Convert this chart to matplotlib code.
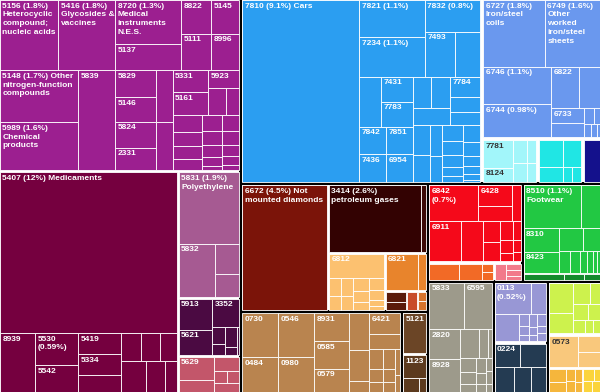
import matplotlib
matplotlib.use("Agg")
import matplotlib.pyplot as plt
from matplotlib.patches import Rectangle
from matplotlib.font_manager import FontProperties

# ---------------- data (share of exports, %) ----------------
purple_ids = ['5156','5416','8720','5137','8822','5111','5145','8996','5148','5989','5839',
              '5829','5146','p1','5824','2331','p2','5331','5161','5923','p3','p4',
              'p5','p6','p7','p8','p9','p10','p11','p12','p13','p14','p15','p16','p17','p18']
purple_vals = [1.73,1.70,1.23,0.73,0.43,0.46,0.40,0.43,1.72,1.59,1.57,
               0.46,0.41,0.37,0.44,0.39,0.35,0.33,0.33,0.23,0.20,0.15,
               0.22,0.18,0.16,0.14,0.14,0.12,0.10,0.07,0.04,0.12,0.10,0.08,0.06,0.04]

maroon_ids = ['5407','8939','5530','5542','5419','5334','m1','m2','m3','m4','m5','m6','m7']
maroon_vals = [12.1,0.88,0.585,0.49,0.38,0.38,0.31,0.24,0.23,0.20,0.33,0.25,0.16]

pink_ids = ['5831','5832','k1','k2']
pink_vals = [1.87,0.83,0.32,0.24]
dpurple_ids = ['5913','5621','3352','d1','d2','d3','d4','d5']
dpurple_vals = [0.45,0.36,0.33,0.10,0.06,0.10,0.04,0.03]
coral_ids = ['5629','r1','r2','r3','r4','r5']
coral_vals = [0.35,0.18,0.16,0.07,0.06,0.10]

blue_ids = ['7810','7821','7234','7832','7493','b1','b2','7431','7783','7842','7436','7851','6954',
            'b3','b4','b5','7784','b6','b7','b8','b9','b10','b11','b12','b13','b14','b15','b16',
            'b17','b18','b19','b20','b21','b22']
blue_vals = [9.1,1.05,1.10,0.75,0.59,0.48,0.47,0.34,0.34,0.32,0.32,0.32,0.32,
             0.24,0.26,0.27,0.26,0.19,0.17,0.22,0.20,0.16,0.14,0.14,0.12,0.10,0.08,0.05,
             0.13,0.10,0.08,0.06,0.04,0.02]

peri_ids = ['6727','6749','6746','6744','6822','s1','6733','s2','s3','s4','s5','s6','s7']
peri_vals = [1.80,1.60,1.10,0.98,0.50,0.37,0.22,0.20,0.07,0.04,0.04,0.03,0.02]
lcyan_ids = ['7781','8124','l1','l2','l3','l4']
lcyan_vals = [0.38,0.20,0.14,0.09,0.12,0.08]
cyan_ids = ['y1','y2','y3','y4','y5','n1']
cyan_vals = [0.30,0.17,0.22,0.06,0.06,0.31]

stone_ids = ['6672','3414','x1','6812','o1','o2','o3','o4','o5','o6','o7','o8','o9','o10','o11',
             '6821','o12','w1','w2','w3','w4','w5']
stone_vals = [4.65,2.72,0.16,0.60,0.10,0.08,0.10,0.08,0.10,0.08,0.06,0.08,0.06,0.04,0.03,
              0.55,0.14,0.11,0.08,0.09,0.04,0.04]

food_ids = ['0730','0484','0546','0980','8931','0585','0579','t1','t2','t3','6421','t4',
            't5','t6','t7','t8','t9','t10','t11','t12','5121','1123','u1','u2']
food_vals = [0.70,0.56,0.69,0.55,0.43,0.42,0.36,0.32,0.27,0.10,0.28,0.21,
             0.12,0.08,0.06,0.10,0.07,0.05,0.06,0.04,0.42,0.24,0.10,0.05]

red_ids = ['6842','6428','e1','e2','6911','e3','e4','e5','e6','e7','e8','e9','e10','e11',
           'f1','f2','f3','f4','f5','f6','f7','f8']
red_vals = [0.80,0.32,0.23,0.14,0.58,0.40,0.16,0.14,0.12,0.08,0.05,0.06,0.04,0.03,
            0.22,0.17,0.04,0.04,0.08,0.04,0.04,0.03]

green_ids = ['8510','g1','8310','8423','g2','g3','g4','g5','g6','g7','g8','g9','h1','h2','h3']
green_vals = [1.10,0.37,0.36,0.34,0.24,0.17,0.12,0.10,0.07,0.06,0.04,0.03,0.10,0.05,0.04]

gray_ids = ['5833','6595','2820','8928','a1','a2','a3','a4','a5','a6','a7','a8','a9','a10','a11','a12']
gray_vals = [0.72,0.57,0.42,0.45,0.24,0.12,0.05,0.10,0.08,0.06,0.07,0.05,0.04,0.03,0.03,0.02]

mid_ids = ['0113','q1','q2','q3','q4','q5','q6','q7','q8','q9','q10','q11','0224','v1','v2','v3','v4']
mid_vals = [0.52,0.22,0.30,0.06,0.04,0.03,0.05,0.03,0.02,0.05,0.03,0.03,0.27,0.28,0.22,0.20,0.18]

lime_ids = ['i1','i2','i3','i4','i5','i6','i7','i8','i9','0573','j1','j2',
            'j3','j4','j5','j6','j7','j8','j9','j10','j11','j12']
lime_vals = [0.34,0.22,0.16,0.10,0.11,0.09,0.07,0.05,0.04,0.42,0.17,0.15,
             0.11,0.08,0.06,0.05,0.04,0.03,0.07,0.04,0.05,0.04]

share_codes = ['5156','5416','8720','5148','5989','5407','5831','5530','7810','7821','7234','7832',
               '6727','6749','6746','6744','6672','3414','6842','8510','0113']
share_texts = ['1.8%','1.8%','1.3%','1.7%','1.6%','12%','1.9%','0.59%','9.1%','1.1%','1.1%','0.8%',
               '1.8%','1.6%','1.1%','0.98%','4.5%','2.6%','0.7%','1.1%','0.52%']
name_codes = ['5156','5416','8720','5148','5989','5407','5831','7810','6727','6749','6672','3414','8510']
name_texts = ['Heterocyclic compound; nucleic acids','Glycosides & vaccines','Medical instruments N.E.S.',
              'Other nitrogen-function compounds','Chemical products','Medicaments','Polyethylene',
              'Cars','Iron/steel coils','Other worked iron/steel sheets','Not mounted diamonds',
              'petroleum gases','Footwear']
dark_text_codes = ['7781','8124','0573']

VALUE = {}
for ids, vals in [(purple_ids, purple_vals), (maroon_ids, maroon_vals), (pink_ids, pink_vals),
                  (dpurple_ids, dpurple_vals), (coral_ids, coral_vals), (blue_ids, blue_vals),
                  (peri_ids, peri_vals), (lcyan_ids, lcyan_vals), (cyan_ids, cyan_vals),
                  (stone_ids, stone_vals), (food_ids, food_vals), (red_ids, red_vals),
                  (green_ids, green_vals), (gray_ids, gray_vals), (mid_ids, mid_vals),
                  (lime_ids, lime_vals)]:
    assert len(ids) == len(vals)
    VALUE.update(dict(zip(ids, vals)))
SHARE = dict(zip(share_codes, share_texts))
NAME = dict(zip(name_codes, name_texts))

# ---------------- layout tree ----------------
def H(*kids, gap=0, col='white'):
    return ('h', kids, gap, col)

def V(*kids, gap=0, col='white'):
    return ('v', kids, gap, col)

def C(color, node):
    return ('c', color, node)

P_tree = V(H('5156', '5416', V('8720', '5137'), V('8822', '5111'), V('5145', '8996')),
           H(V('5148', '5989'), '5839',
             V(H(V('5829', '5146'), 'p1'), H(V('5824', '2331'), 'p2')),
             V(H(V('5331', '5161'), V('5923', H('p3', 'p4'))),
               H(V('p5', 'p6', 'p7', 'p8'), V('p9', 'p10', 'p11', 'p12', 'p13'),
                 V('p14', 'p15', 'p16', 'p17', 'p18')))))
maroon_tree = V('5407', H('8939', V('5530', '5542'), V('5419', '5334', 'm1'),
                          V(H('m2', 'm3', 'm4'), H('m5', 'm6', 'm7'))))
M_tree = H(C('#75003f', maroon_tree),
           V(C('#a65a92', V('5831', H('5832', V('k1', 'k2')))),
             C('#4b0a42', H(V('5913', '5621'), V('3352', H(V('d1', 'd2'), V('d3', 'd4'), 'd5')))),
             C('#c3566a', H(V('5629', 'r1'), V('r2', H('r3', 'r4'), 'r5'))), gap=2),
           gap=2)
L_tree = V(C('#9c1f90', P_tree), M_tree, gap=2)

blue_tree = H('7810',
              V(H(V('7821', '7234'), V('7832', H('7493', 'b1'))),
                H(V(H('b2', V('7431', '7783')), H(V('7842', '7436'), V('7851', '6954'))),
                  V(H(V(H('b3', 'b4'), 'b5'), V('7784', 'b6', 'b7')),
                    H(V('b8', 'b9'), V('b10', 'b11'), V('b12', 'b13', 'b14', 'b15', 'b16'),
                      V('b17', 'b18', 'b19', 'b20', 'b21', 'b22'))))))
peri_tree = V(H('6727', '6749'),
              H(V('6746', '6744'),
                V(H('6822', 's1'), H(V('6733', 's2'), V(H('s3', 's4'), H('s5', 's6', 's7'))))))
metals = V(C('#6a98ee', peri_tree),
           H(C('#a2f6fa', H(V('7781', '8124'), V(H('l1', 'l2'), H('l3', 'l4')))),
             C('#20e6e4', H(V('y1', 'y2'), V('y3', H('y4', 'y5')))),
             C('#14118c', 'n1'), gap=3),
           gap=3)
Rtop = H(C('#2b9ef1', blue_tree), metals, gap=3)

upper = H(C('#7b1409', '6672'),
          V(H(C('#330202', '3414'), C('#3c0a06', 'x1')),
            H(C('#fcc170', V('6812', H(V('o1', 'o2'), V('o3', 'o4'), V('o5', 'o6', 'o7'),
                                       V('o8', 'o9', 'o10', 'o11')))),
              V(C('#e8842c', H('6821', 'o12')),
                H(C('#5a1a0a', V('w1', 'w2')), C('#c84c2a', 'w3'), C('#d8742c', V('w4', 'w5')), gap=1),
                gap=2),
              gap=2),
            gap=2),
          gap=2)
tan_tree = H(V('0730', '0484'), V('0546', '0980'), V('8931', '0585', '0579'), V('t1', 't2', 't3'),
             V('6421', 't4', H(V('t5', 't6', 't7'), V('t8', 't9', 't10'), V('t11', 't12'))))
lower = H(C('#b9844f', tan_tree),
          V(C('#6b4526', '5121'), C('#5c3a1e', V('1123', H('u1', 'u2'))), gap=2),
          gap=3, col='black')
block185 = V(upper, lower, gap=3, col='black')

red_block = V(C('#f5091a', V(H('6842', V('6428', 'e1'), 'e2'),
                             H('6911', 'e3', V('e4', 'e5'), V('e6', 'e7', 'e8'), V('e9', 'e10', 'e11')))),
              H(C('#f26a26', H('f1', 'f2', V('f3', 'f4'))), C('#f27a8a', H('f5', V('f6', 'f7', 'f8'))), gap=2),
              gap=3)
green_block = V(C('#22c843', V(H('8510', 'g1'),
                               H(V('8310', '8423'), V(H('g2', 'g3'), H('g4', 'g5', 'g6', 'g7', 'g8', 'g9'))))),
                C('#138a2c', H('h1', 'h2', 'h3')), gap=1)
gray_block = C('#9d9a8b', V(H('5833', '6595'),
                            H(V('2820', '8928'),
                              V(H('a1', 'a2', 'a3'),
                                H(V('a4', 'a5', 'a6'), V('a7', 'a8', 'a9'), V('a10', 'a11', 'a12'))))))
mid_block = V(C('#9897d5', V(H('0113', 'q1'), H('q2', H(V('q3', 'q4', 'q5'), V('q6', 'q7', 'q8'), V('q9', 'q10', 'q11'))))),
              C('#243b52', V(H('0224', 'v1'), H('v2', 'v3', 'v4'))), gap=3)
lime_block = V(C('#cdf24d', H(V('i1', 'i2'), V(H('i3', 'i4'), H('i5', 'i6'), H('i7', 'i8', 'i9')))),
               V(C('#f9c87c', H('0573', V('j1', 'j2'))),
                 H(C('#f5b63c', H(V('j3', 'j4'), V('j5', 'j6'), V('j7', 'j8'))),
                   C('#fbd43c', V(H('j9', 'j10'), H('j11', 'j12'))), gap=1),
                 gap=2),
               gap=3)
block175 = V(H(red_block, green_block, gap=3, col='black'),
             H(gray_block, mid_block, lime_block, gap=3, col='black'),
             gap=3, col='black')
Rbot = H(block185, block175, gap=3, col='black')
R_tree = V(Rtop, Rbot, gap=3, col='black')
root = H(L_tree, R_tree, gap=3, col='black')

# ---------------- layout engine ----------------
def total(n):
    if isinstance(n, str):
        return VALUE[n]
    if n[0] == 'c':
        return total(n[2])
    return sum(total(k) for k in n[1])

leaves, backs = [], []

def place(n, x, y, w, h, color):
    if isinstance(n, str):
        leaves.append((n, x, y, w, h, color))
        return
    if n[0] == 'c':
        place(n[2], x, y, w, h, n[1])
        return
    d, kids, gap, gcol = n
    if gap > 0:
        backs.append((x, y, w, h, gcol))
    tot = sum(total(k) for k in kids)
    avail = (w if d == 'h' else h) - gap * (len(kids) - 1)
    pos = x if d == 'h' else y
    for k in kids:
        s = avail * total(k) / tot
        if d == 'h':
            place(k, pos, y, s, h, color)
        else:
            place(k, x, pos, w, s, color)
        pos += s + gap

W, Hh = 600, 392
place(root, 0, 0, W, Hh, '#888888')

fig = plt.figure(figsize=(6.0, 3.92), dpi=100)
fig.patch.set_facecolor('white')
ax = fig.add_axes([0, 0, 1, 1])
ax.set_xlim(0, W)
ax.set_ylim(Hh, 0)
ax.axis('off')

for (x, y, w, h, c) in backs:
    ax.add_patch(Rectangle((x, y), w, h, facecolor=c, edgecolor='none', zorder=1))
for (k, x, y, w, h, c) in leaves:
    ax.add_patch(Rectangle((x, y), w, h, facecolor=c, edgecolor='white', linewidth=0.6, zorder=2))

FONT = ['Liberation Sans Narrow', 'Liberation Sans', 'DejaVu Sans']
FS = 6.0
fp = FontProperties(family=FONT, weight='bold', size=FS)
renderer = fig.canvas.get_renderer()

def text_w(s):
    w, h, d = renderer.get_text_width_height_descent(s, fp, ismath=False)
    return w

for (k, x, y, w, h, c) in leaves:
    if not k.isdigit():
        continue
    s = k
    if k in SHARE:
        s += ' (' + SHARE[k] + ')'
    if k in NAME:
        s += ' ' + NAME[k]
    words = s.split(' ')
    lines, cur = [], words[0]
    for wd in words[1:]:
        if text_w(cur + ' ' + wd) <= w - 3:
            cur += ' ' + wd
        else:
            lines.append(cur)
            cur = wd
    lines.append(cur)
    col = '#333333' if k in dark_text_codes else 'white'
    ax.text(x + 2.5, y + 2.5, '\n'.join(lines), fontproperties=fp, color=col,
            va='top', ha='left', linespacing=1.35, zorder=3)

fig.savefig('out.png', dpi=100, facecolor=fig.get_facecolor())
